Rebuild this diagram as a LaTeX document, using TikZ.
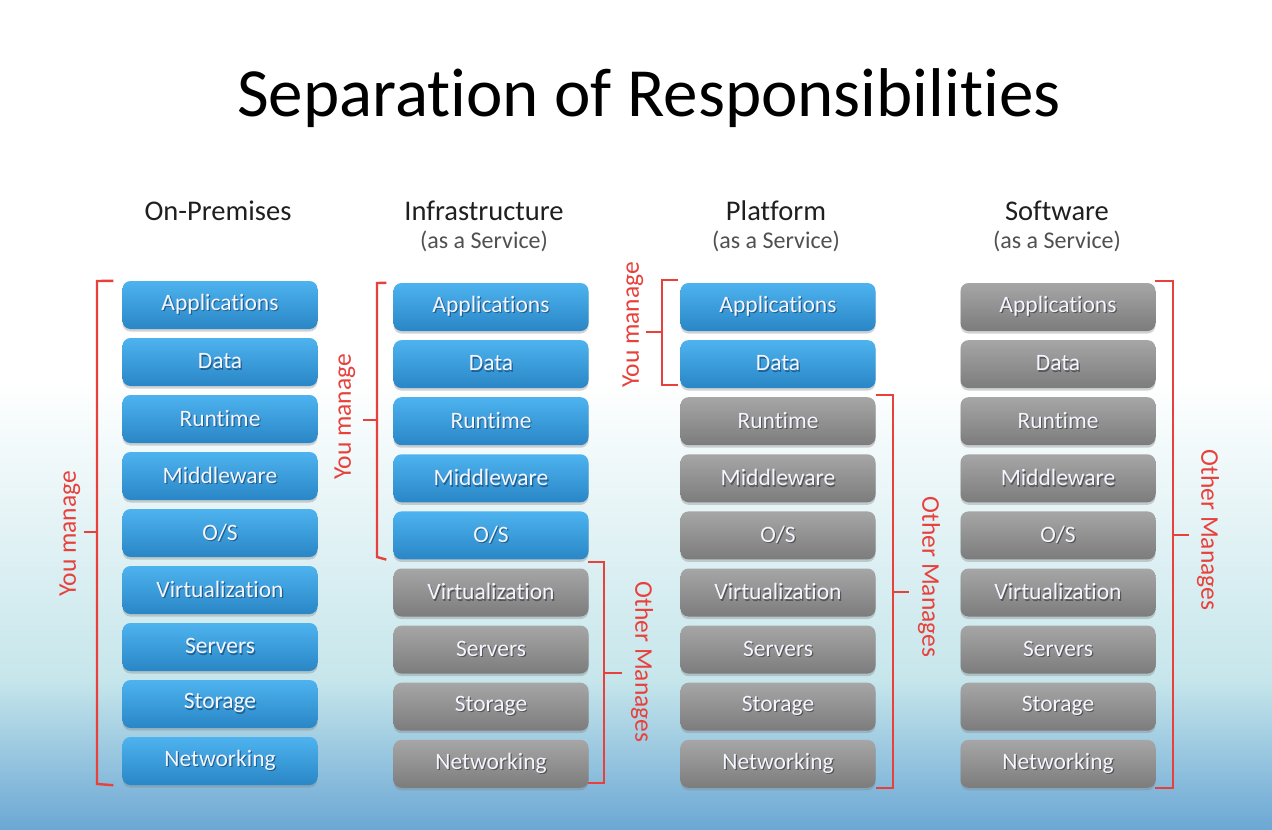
\documentclass[tikz,border=0pt]{standalone}
\usepackage{fontspec}
\setmainfont{Carlito}[Ligatures=NoCommon]
\usetikzlibrary{shadows,calc}
\definecolor{bluetop}{HTML}{4DB3EF}
\definecolor{bluebot}{HTML}{2A86C6}
\definecolor{greytop}{HTML}{A6A6A6}
\definecolor{greybot}{HTML}{7C7C7C}
\definecolor{brkred}{HTML}{E8413C}
\definecolor{bgmid}{HTML}{C6E6EB}
\definecolor{bgbot}{HTML}{6BA7D4}
\definecolor{subgrey}{HTML}{505050}
\definecolor{blueshadow}{HTML}{1F5F8E}
\definecolor{greyshadow}{HTML}{555555}
\newcommand\shtext[1]{\makebox[0pt][l]{\hspace{1.2pt}\raisebox{-1.3pt}{\textcolor{\shc}{#1}}}#1}
\tikzset{
  stackbox/.style={rounded corners=8pt, minimum width=195pt, minimum height=48pt,
    inner sep=0pt, text=white!96!blue, font=\fontsize{23.5}{26}\selectfont,
    drop shadow={opacity=0.35, shadow xshift=0pt, shadow yshift=-2.5pt}},
  bluebox/.style={stackbox, top color=bluetop, bottom color=bluebot,
    execute at begin node={\def\shc{blueshadow}}},
  greybox/.style={stackbox, top color=greytop, bottom color=greybot,
    execute at begin node={\def\shc{greyshadow}}},
  brk/.style={draw=brkred, line width=2.4pt},
  brklabel/.style={text=brkred, font=\fontsize{25.5}{28}\selectfont, inner sep=0pt},
  head/.style={font=\fontsize{28.5}{31}\selectfont, text=black!88, inner sep=0pt},
  subhead/.style={font=\fontsize{24}{26}\selectfont, text=subgrey, inner sep=0pt}
}
\begin{document}
\begin{tikzpicture}[x=1pt,y=-1pt]
\useasboundingbox (0,0) rectangle (1272,830);
% background
\fill[white] (0,0) rectangle (1272,380);
\shade[top color=white, bottom color=bgmid] (0,380) rectangle (1272,680);
\shade[top color=bgmid, bottom color=bgbot] (0,679.5) rectangle (1272,830);
% title
\node[font=\fontsize{69}{72}\selectfont, inner sep=0pt] (title) at (649,98) {Separation of Responsibilities};
% headers
\node[head] (h1) at (218,211) {On-Premises};
\node[head] (h2) at (484,211) {Infrastructure};
\node[subhead] (s2) at (484,241) {(as a Service)};
\node[head] (h3) at (776,211) {Platform};
\node[subhead] (s3) at (776,241) {(as a Service)};
\node[head] (h4) at (1057,211) {Software};
\node[subhead] (s4) at (1057,241) {(as a Service)};
% column 1
\foreach \name [count=\i] in {Applications,Data,Runtime,Middleware,O/S,Virtualization,Servers,Storage,Networking}
  \node[bluebox] (a\i) at (220,{305+57*(\i-1)}) {\shtext{\name}};
% column 2
\foreach \name [count=\i] in {Applications,Data,Runtime,Middleware,O/S,Virtualization,Servers,Storage,Networking}{
  \ifnum\i<6 \def\sty{bluebox}\else\def\sty{greybox}\fi
  \node[\sty] (b\i) at (491,{307+57.1*(\i-1)}) {\shtext{\name}};
}
% column 3
\foreach \name [count=\i] in {Applications,Data,Runtime,Middleware,O/S,Virtualization,Servers,Storage,Networking}{
  \ifnum\i<3 \def\sty{bluebox}\else\def\sty{greybox}\fi
  \node[\sty] (c\i) at (778,{307+57.1*(\i-1)}) {\shtext{\name}};
}
% column 4
\foreach \name [count=\i] in {Applications,Data,Runtime,Middleware,O/S,Virtualization,Servers,Storage,Networking}
  \node[greybox] (d\i) at (1058,{307+57.1*(\i-1)}) {\shtext{\name}};
% brackets column 1
\coordinate (k1t) at ($(a1.north west)+(-9,0)$);
\coordinate (k1b) at ($(a9.south west)+(-9,0)$);
\draw[brk] (k1t) -- (97,281) -- (97,784) -- (k1b);
\coordinate (k1m) at (97,532);
\draw[brk] (k1m) -- ++(-13,0);
\node[brklabel, rotate=90] (l1) at (70,534) {You manage};
% column 2 you manage
\coordinate (k2t) at ($(b1.north west)+(-7,0)$);
\coordinate (k2b) at ($(b5.south west)+(-7,0)$);
\draw[brk] (k2t) -- (377,283) -- (377,557) -- (k2b);
\coordinate (k2m) at (377,420);
\draw[brk] (k2m) -- ++(-14,0);
\node[brklabel, rotate=90] (l2) at (345,417) {You manage};
% column 2 other manages
\coordinate (o2t) at (588,562);
\coordinate (o2b) at (588,783);
\draw[brk] (o2t) -- (604,562) -- (604,783) -- (o2b);
\coordinate (o2m) at (604,673);
\draw[brk] (o2m) -- ++(18,0);
\node[brklabel, rotate=-90] (l3) at (642,662) {Other Manages};
% column 3 you manage
\coordinate (k3t) at (678,280);
\coordinate (k3b) at (678,385);
\draw[brk] (k3t) -- (662,280) -- (662,385) -- (k3b);
\coordinate (k3m) at (662,332);
\draw[brk] (k3m) -- ++(-16,0);
\node[brklabel, rotate=90] (l4) at (633,325) {You manage};
% column 3 other manages
\coordinate (o3t) at (876,395);
\coordinate (o3b) at (876,788);
\draw[brk] (o3t) -- (893,395) -- (893,788) -- (o3b);
\coordinate (o3m) at (893,592);
\draw[brk] (o3m) -- ++(16,0);
\node[brklabel, rotate=-90] (l5) at (929,577) {Other Manages};
% column 4 other manages
\coordinate (o4t) at (1155,281);
\coordinate (o4b) at (1155,788);
\draw[brk] (o4t) -- (1173,281) -- (1173,788) -- (o4b);
\coordinate (o4m) at (1173,535);
\draw[brk] (o4m) -- ++(16,0);
\node[brklabel, rotate=-90] (l6) at (1208,530) {Other Manages};
\end{tikzpicture}
\end{document}
